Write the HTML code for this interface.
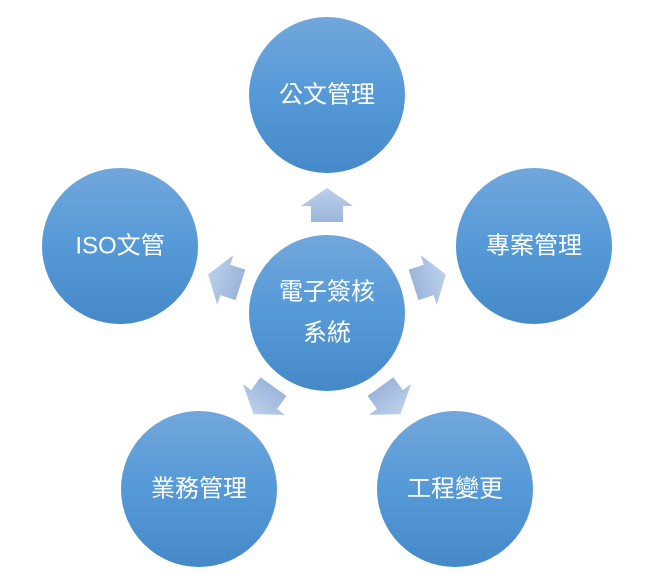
<!DOCTYPE html>
<html><head><meta charset="utf-8"><style>
html,body{margin:0;padding:0;background:#fff;}
svg{display:block;}
text{font-family:"Liberation Sans","Noto Sans CJK TC",sans-serif;font-size:24px;fill:#fff;text-anchor:middle;dominant-baseline:central;}
</style></head><body>
<svg width="658" height="582" viewBox="0 0 658 582" xmlns="http://www.w3.org/2000/svg">
<defs>
<linearGradient id="c" x1="0" y1="0" x2="0" y2="1">
<stop offset="0" stop-color="#71a7dc"/><stop offset="0.5" stop-color="#5599d7"/><stop offset="1" stop-color="#4589c8"/>
</linearGradient>
<linearGradient id="a" x1="0" y1="0" x2="0" y2="1">
<stop offset="0" stop-color="#bcd0ec"/><stop offset="1" stop-color="#9cb5da"/>
</linearGradient>
<polygon id="arr" points="0,-17 26,1 16,1 16,17 -16,17 -16,1 -26,1" fill="url(#a)"/>
</defs>
<g transform="translate(327,313)">
<use href="#arr" transform="rotate(0) translate(0,-108)"/>
<use href="#arr" transform="rotate(72) translate(0,-108)"/>
<use href="#arr" transform="rotate(144) translate(0,-108)"/>
<use href="#arr" transform="rotate(216) translate(0,-108)"/>
<use href="#arr" transform="rotate(288) translate(0,-108)"/>
</g>
<circle cx="327" cy="313" r="78" fill="url(#c)"/>
<circle cx="327" cy="95" r="78" fill="url(#c)"/>
<circle cx="534" cy="246" r="78" fill="url(#c)"/>
<circle cx="120" cy="246" r="78" fill="url(#c)"/>
<circle cx="199" cy="489" r="78" fill="url(#c)"/>
<circle cx="455" cy="489" r="78" fill="url(#c)"/>
<text x="327" y="292">電子簽核</text>
<text x="327" y="333">系統</text>
<text x="327" y="95">公文管理</text>
<text x="534" y="246">專案管理</text>
<text x="120" y="246">ISO文管</text>
<text x="199" y="489">業務管理</text>
<text x="455" y="489">工程變更</text>
</svg>
</body></html>
